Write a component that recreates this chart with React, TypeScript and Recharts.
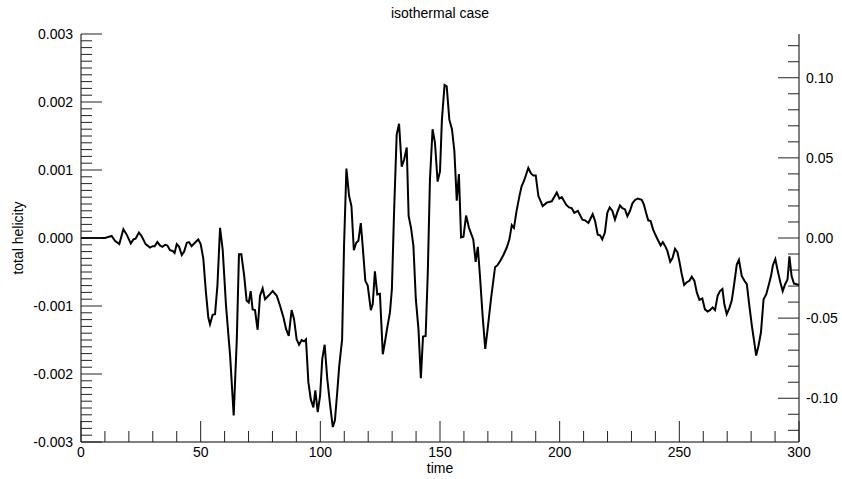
import React from 'react';
import { LineChart, Line, XAxis, YAxis } from 'recharts';

const W = 842;
const H = 479;
const FONT = '"Liberation Sans", Arial, Helvetica, sans-serif';

const times = [
  0, 10, 12.8, 14.2, 16.0, 17.7, 19.1, 20.8, 21.9, 22.8, 24.2, 25.3, 27.0, 28.8, 29.9, 30.8, 31.9, 33.0, 34.0, 35.2,
  36.1, 37.2, 38.3, 39.1, 40.0, 41.0, 42.1, 43.1, 44.2, 45.1, 46.2, 47.6, 49.0, 50.0, 51.1, 52.2, 53.2, 53.9, 55.0, 56.0,
  57.0, 58.1, 59.2, 60.6, 62.3, 63.8, 65.1, 66.0, 67.0, 68.2, 69.2, 70.1, 70.9, 71.7, 72.7, 73.8, 74.8, 75.9, 76.9, 78.3,
  80.1, 81.8, 83.2, 84.6, 85.7, 86.8, 88.0, 89.0, 90.1, 91.1, 92.2, 93.2, 94.0, 95.0, 96.0, 97.1, 97.9, 98.9, 99.9, 100.8,
  101.8, 102.9, 104.0, 105.2, 106.1, 107.1, 107.9, 109.1, 109.9, 110.9, 112.0, 113.0, 114.0, 115.0, 115.9, 116.9, 117.7, 118.8, 119.8, 121.1,
  121.9, 122.8, 123.8, 124.9, 126.1, 127.0, 128.0, 129.1, 129.9, 130.8, 131.9, 132.9, 134.0, 135.0, 136.1, 136.9, 137.9, 138.9, 139.9, 141.0,
  142.0, 142.9, 144.0, 144.9, 145.8, 146.9, 147.9, 149.0, 150.0, 150.8, 151.9, 152.8, 153.9, 155.0, 156.0, 157.0, 157.9, 158.8, 159.8, 160.9,
  162.1, 163.9, 164.9, 165.8, 166.7, 167.8, 168.9, 169.9, 171.3, 173.0, 174.0, 175.1, 176.5, 177.9, 179.0, 180.0, 180.9, 182.0, 183.2, 184.1,
  185.2, 186.9, 188.0, 189.0, 190.0, 191.1, 192.9, 194.6, 196.7, 198.8, 199.9, 200.9, 202.7, 203.9, 205.0, 206.1, 207.6, 209.5, 210.6, 212.0,
  213.8, 214.8, 215.9, 216.9, 217.8, 218.9, 219.9, 220.9, 222.0, 223.1, 224.1, 225.2, 226.2, 227.3, 228.3, 229.4, 230.4, 231.5, 232.6, 234.3,
  235.2, 236.1, 237.0, 238.0, 239.1, 240.1, 241.2, 242.2, 243.1, 244.1, 245.0, 246.2, 247.1, 248.2, 249.2, 250.0, 251.0, 252.0, 253.1, 254.2,
  255.2, 256.3, 257.3, 258.4, 259.6, 260.7, 261.8, 262.8, 263.9, 264.9, 266.0, 267.0, 268.0, 268.8, 269.8, 270.9, 271.9, 272.9, 274.0, 274.9,
  276.1, 277.2, 278.2, 279.1, 280.3, 281.3, 282.1, 283.1, 284.1, 285.2, 286.3, 287.3, 288.3, 289.1, 290.1, 291.1, 292.2, 293.2, 294.2, 295.2,
  296.0, 296.9, 297.9, 299.0, 300.0,
];

const helicity = [
  0, 0, 0.00003, -0.00004, -0.00009, 0.00013, 0.00005, -0.00008, -0.00002, -0.00001, 0.00008, 0.00003, -0.00009, -0.00014, -0.00012, -0.00012, -0.00006, -0.00011, -0.00013, -0.0001,
  -0.00011, -0.00018, -0.00019, -0.00022, -0.00009, -0.00013, -0.00025, -0.0002, -0.00007, -0.00006, -0.00012, -0.00007, -0.00002, -0.00009, -0.0003, -0.0008, -0.00117, -0.00127, -0.00113, -0.00112,
  -0.0007, 0.00015, -0.00017, -0.001, -0.00173, -0.00261, -0.00149, -0.00024, -0.00024, -0.00056, -0.00092, -0.00095, -0.00078, -0.00105, -0.00106, -0.00135, -0.00085, -0.00074, -0.0009, -0.00085,
  -0.00078, -0.00085, -0.001, -0.00117, -0.00134, -0.00144, -0.00106, -0.00119, -0.00149, -0.00157, -0.0015, -0.00152, -0.00149, -0.00212, -0.00237, -0.00249, -0.00224, -0.00256, -0.00232, -0.00178,
  -0.00157, -0.00207, -0.00243, -0.00278, -0.00268, -0.00225, -0.00188, -0.00149, -0.00012, 0.00102, 0.00062, 0.00047, -0.00018, -0.00007, -0.00004, 0.00022, -0.00012, -0.00063, -0.0007, -0.00106,
  -0.00097, -0.00049, -0.00083, -0.00082, -0.00171, -0.00153, -0.00131, -0.00109, -0.00075, 0.00037, 0.00152, 0.00168, 0.00105, 0.00115, 0.00133, 0.00032, 0.00015, -0.00012, -0.0009, -0.00134,
  -0.00206, -0.00145, -0.00144, -0.00051, 0.00086, 0.0016, 0.0014, 0.00083, 0.00098, 0.00174, 0.00225, 0.00223, 0.00174, 0.0016, 0.00128, 0.00055, 0.00094, 0.00001, 0.00002, 0.00033,
  0.00015, -0.00002, -0.00035, -0.00013, -0.00056, -0.00114, -0.00163, -0.00134, -0.0009, -0.00043, -0.0004, -0.00034, -0.00025, -0.00014, -0.00002, 0.00019, 0.00015, 0.0004, 0.00062, 0.00076,
  0.00085, 0.00103, 0.00095, 0.00092, 0.00092, 0.00062, 0.00047, 0.00052, 0.00054, 0.00067, 0.00058, 0.0006, 0.00049, 0.00045, 0.00044, 0.00037, 0.0004, 0.00027, 0.00026, 0.00022,
  0.00035, 0.00025, 0.00005, 0.00004, -0.00002, 0.00008, 0.00037, 0.00045, 0.0004, 0.00027, 0.00038, 0.00048, 0.00044, 0.00042, 0.00032, 0.0004, 0.00051, 0.00056, 0.00058, 0.00056,
  0.00049, 0.00037, 0.00026, 0.00025, 0.00012, 0.00004, -0.00004, -0.00011, -0.00006, -0.00012, -0.00019, -0.00035, -0.0003, -0.00016, -0.00021, -0.00034, -0.00053, -0.00069, -0.00065, -0.00063,
  -0.00057, -0.00063, -0.0008, -0.00091, -0.00089, -0.00105, -0.00108, -0.00106, -0.00102, -0.00106, -0.00085, -0.00078, -0.00075, -0.00097, -0.00112, -0.00103, -0.00092, -0.00068, -0.00039, -0.00032,
  -0.00056, -0.00063, -0.00068, -0.00095, -0.00129, -0.00153, -0.00173, -0.00158, -0.00139, -0.0009, -0.00083, -0.0007, -0.00056, -0.0004, -0.00031, -0.00048, -0.00065, -0.00078, -0.00068, -0.00061,
  -0.00027, -0.00056, -0.00067, -0.00068, -0.00069,
];

const xTicks = [
  0, 10, 20, 30, 40, 50, 60, 70, 80, 90, 100, 110, 120, 130, 140, 150, 160, 170, 180, 190,
  200, 210, 220, 230, 240, 250, 260, 270, 280, 290, 300,
];
const xMajorStep = 50;

const leftDomain = [-0.003, 0.003];
const leftMajorStep = 0.001;
const leftMinorStep = 0.0001;
const leftTicks = Array.from({ length: 61 }, (_, i) => +((i - 30) * leftMinorStep).toFixed(4));

const rightDomain = [-0.1273, 0.1273];
const rightMajorStep = 0.05;
const rightMinorStep = 0.01;
const rightTicks = Array.from({ length: 25 }, (_, i) => +((i - 12) * rightMinorStep).toFixed(2));

const titleText = 'isothermal case';
const xLabelText = 'time';
const yLabelText = 'total helicity';

const n = Math.min(times.length, helicity.length);
const data = times.slice(0, n).map((t, i) => ({ time: t, h: helicity[i] }));

const isMultiple = (v: number, step: number) => Math.abs(v / step - Math.round(v / step)) < 1e-6;

const MAJOR = 21;
const MINOR = 11;
const TICK_STROKE = '#222';

const BottomTick = (props: any) => {
  const { x, y, payload } = props;
  const v = payload.value;
  const major = isMultiple(v, xMajorStep);
  return (
    <g>
      <line x1={x} x2={x} y1={y} y2={y - (major ? MAJOR : MINOR)} stroke={TICK_STROKE} strokeWidth={1} />
      {major && (
        <text x={x} y={y + 15} textAnchor="middle" fontSize={14} fontFamily={FONT} fill="#000">
          {String(v)}
        </text>
      )}
    </g>
  );
};

const TopTick = (props: any) => {
  const { x, y, payload } = props;
  const major = isMultiple(payload.value, xMajorStep);
  return <line x1={x} x2={x} y1={y} y2={y + (major ? MAJOR : MINOR)} stroke={TICK_STROKE} strokeWidth={1} />;
};

const LeftTick = (props: any) => {
  const { x, y, payload } = props;
  const v = payload.value;
  const major = isMultiple(v, leftMajorStep);
  return (
    <g>
      <line x1={x} x2={x + (major ? MAJOR : MINOR)} y1={y} y2={y} stroke={TICK_STROKE} strokeWidth={1} />
      {major && (
        <text x={x - 8} y={y + 5} textAnchor="end" fontSize={14} fontFamily={FONT} fill="#000">
          {v.toFixed(3)}
        </text>
      )}
    </g>
  );
};

const RightTick = (props: any) => {
  const { x, y, payload } = props;
  const v = payload.value;
  const major = isMultiple(v, rightMajorStep);
  return (
    <g>
      <line x1={x} x2={x - (major ? MAJOR : MINOR)} y1={y} y2={y} stroke={TICK_STROKE} strokeWidth={1} />
      {major && (
        <text x={x + 7} y={y + 5} textAnchor="start" fontSize={14} fontFamily={FONT} fill="#000">
          {(Math.abs(v) < 1e-9 ? 0 : v).toFixed(2)}
        </text>
      )}
    </g>
  );
};

export default function App() {
  return (
    <div style={{ position: 'absolute', left: 0, top: 0, width: W, height: H, background: '#fff' }}>
      <LineChart width={W} height={H} data={data} margin={{ top: 34, right: 0, bottom: 0, left: 0 }}>
        <XAxis
          xAxisId="bottom"
          dataKey="time"
          type="number"
          domain={[0, 300]}
          allowDataOverflow
          ticks={xTicks}
          interval={0}
          height={37}
          tickSize={0}
          tickMargin={0}
          tickLine={false}
          axisLine={{ stroke: '#000', strokeWidth: 1 }}
          tick={<BottomTick />}
        />
        <XAxis
          xAxisId="top"
          orientation="top"
          dataKey="time"
          type="number"
          domain={[0, 300]}
          allowDataOverflow
          ticks={xTicks}
          interval={0}
          height={0}
          tickSize={0}
          tickMargin={0}
          tickLine={false}
          axisLine={{ stroke: '#000', strokeWidth: 1 }}
          tick={<TopTick />}
        />
        <YAxis
          yAxisId="left"
          type="number"
          domain={leftDomain}
          allowDataOverflow
          ticks={leftTicks}
          interval={0}
          width={81}
          tickSize={0}
          tickMargin={0}
          tickLine={false}
          axisLine={{ stroke: '#000', strokeWidth: 1 }}
          tick={<LeftTick />}
        />
        <YAxis
          yAxisId="right"
          orientation="right"
          type="number"
          domain={rightDomain}
          allowDataOverflow
          ticks={rightTicks}
          interval={0}
          width={43}
          tickSize={0}
          tickMargin={0}
          tickLine={false}
          axisLine={{ stroke: '#000', strokeWidth: 1 }}
          tick={<RightTick />}
        />
        <Line
          xAxisId="bottom"
          yAxisId="left"
          type="linear"
          dataKey="h"
          stroke="#000"
          strokeWidth={2}
          dot={false}
          isAnimationActive={false}
        />
      </LineChart>
      <svg
        width={W}
        height={H}
        style={{ position: 'absolute', left: 0, top: 0, pointerEvents: 'none' }}
      >
        <text x={440} y={18} textAnchor="middle" fontSize={14} fontFamily={FONT} fill="#000">
          {titleText}
        </text>
        <text x={440} y={473} textAnchor="middle" fontSize={14} fontFamily={FONT} fill="#000">
          {xLabelText}
        </text>
        <text
          x={23}
          y={238}
          transform="rotate(-90 23 238)"
          textAnchor="middle"
          fontSize={14}
          fontFamily={FONT}
          fill="#000"
        >
          {yLabelText}
        </text>
      </svg>
    </div>
  );
}
